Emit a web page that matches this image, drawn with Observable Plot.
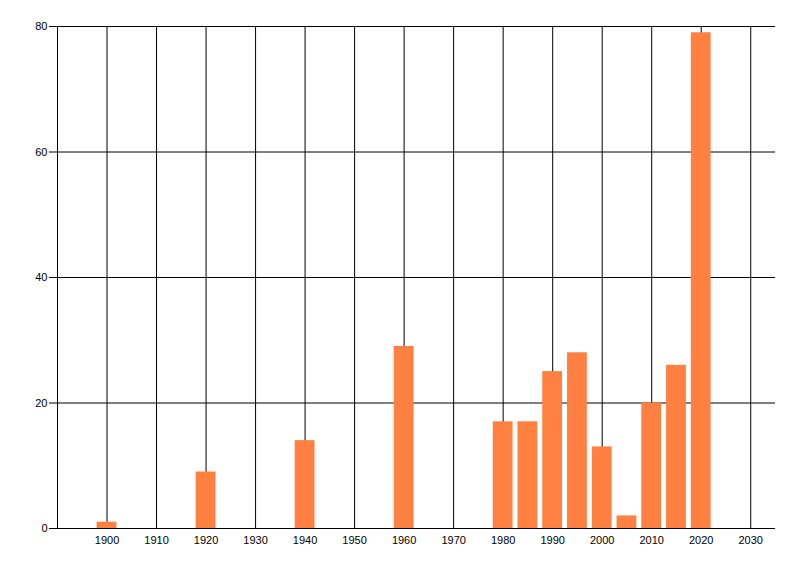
<!DOCTYPE html>
<html>
<head>
<meta charset="utf-8">
<script src="https://cdn.jsdelivr.net/npm/d3@7"></script>
<script src="https://cdn.jsdelivr.net/npm/@observablehq/plot@0.6"></script>
<style>
  body { margin: 0; background: #fff; }
  #chart { width: 800px; height: 576px; }
</style>
</head>
<body>
<div id="chart"></div>
<script>
// bar data
const years = [1900, 1920, 1940, 1960, 1980, 1985, 1990, 1995, 2000, 2005, 2010, 2015, 2020];
const counts = [1, 9, 14, 29, 17, 17, 25, 28, 13, 2, 20, 26, 79];

// axis ticks
const xTicks = [1900, 1910, 1920, 1930, 1940, 1950, 1960, 1970, 1980, 1990, 2000, 2010, 2020, 2030];
const yTicks = [0, 20, 40, 60, 80];

const data = years.map((year, i) => ({year, count: counts[i]}));

let chart = Plot.plot({
  width: 800,
  height: 576,
  marginLeft: 57,
  marginRight: 25,
  marginTop: 26,
  marginBottom: 48,
  x: {domain: [1890, 2035]},
  y: {domain: [0, 80]},
  style: {
    fontFamily: 'Liberation Sans, Arial, sans-serif',
    fontSize: '11px',
    color: 'black',
    background: 'white'
  },
  marks: [
    Plot.gridX(xTicks, {stroke: 'black', strokeOpacity: 1}),
    Plot.gridY(yTicks, {stroke: 'black', strokeOpacity: 1}),
    Plot.rectY(data, {
      x1: d => d.year - 2,
      x2: d => d.year + 2,
      y: 'count',
      fill: '#ff8040'
    }),
    Plot.ruleX([1890], {stroke: 'black'}),
    Plot.ruleY([0], {stroke: 'black'}),
    Plot.axisX(xTicks, {tickSize: 0, tickPadding: 8, label: null, tickFormat: d => String(d)}),
    Plot.axisY(yTicks, {tickSize: 8, tickPadding: 2, label: null})
  ]
})
d3.select('#chart').append(() => chart)
</script>
</body>
</html>
